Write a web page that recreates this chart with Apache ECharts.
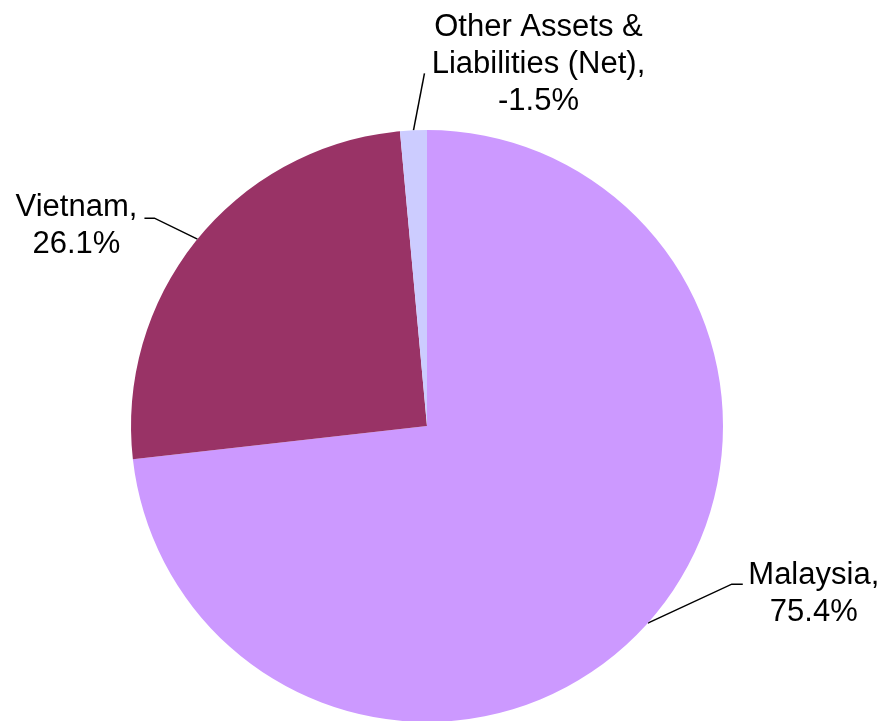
<!DOCTYPE html>
<html>
<head>
<meta charset="utf-8">
<script src="https://cdn.jsdelivr.net/npm/echarts@6/dist/echarts.min.js"></script>
<style>
html,body{margin:0;padding:0;background:#fff;}
#chart{width:887px;height:721px;}
</style>
</head>
<body>
<div id="chart"></div>
<script>
var categories = ['Malaysia', 'Vietnam', 'Other Assets & Liabilities (Net)'];
var values = [75.4, 26.1, -1.5];
var colors = ['#CC99FF', '#993366', '#CCCCFF'];

// label placement relative to slice edge anchor (style only)
var labelOffsets = [
  {dx: 166, dy: -29, line: [[84, -39], [95, -39]]},
  {dx: -121, dy: -13, line: [[-43, -21], [-53, -21]]},
  {dx: 125, dy: -66, line: [[11, -57], [11, -57]]}
];

var CX = 427, CY = 426, R = 296;

function wrapName(n) {
  return n.replace('Assets & ', 'Assets &\n');
}

var chart = echarts.init(document.getElementById('chart'));
var total = values.reduce(function (s, v) { return s + Math.abs(v); }, 0);

var option = {
  backgroundColor: '#ffffff',
  animation: false,
  series: [{
    type: 'pie',
    center: [CX, CY],
    radius: R,
    startAngle: 90,
    clockwise: true,
    avoidLabelOverlap: false,
    itemStyle: {borderWidth: 0},
    data: categories.map(function (c, i) {
      return {
        name: c,
        value: Math.abs(values[i]),
        itemStyle: {color: colors[i]}
      };
    }),
    label: {
      show: true,
      fontFamily: '"Liberation Sans", Arial, sans-serif',
      fontSize: 31,
      lineHeight: 37,
      color: '#000',
      align: 'center',
      formatter: function (p) {
        return wrapName(p.name) + ',\n' + values[p.dataIndex].toFixed(1) + '%';
      }
    },
    labelLine: {
      show: true,
      lineStyle: {color: '#000', width: 1.5}
    },
    labelLayout: function (p) {
      var i = p.dataIndex;
      var ax, ay;
      if (p.labelLinePoints && p.labelLinePoints[0]) {
        ax = p.labelLinePoints[0][0];
        ay = p.labelLinePoints[0][1];
      } else {
        var cum = 0;
        for (var k = 0; k < i; k++) cum += Math.abs(values[k]);
        var mid = (cum + Math.abs(values[i]) / 2) / total * 2 * Math.PI;
        ax = CX + R * Math.sin(mid);
        ay = CY - R * Math.cos(mid);
      }
      var o = labelOffsets[i];
      return {
        x: ax + o.dx,
        y: ay + o.dy,
        align: 'center',
        verticalAlign: 'middle',
        labelLinePoints: [
          [ax, ay],
          [ax + o.line[0][0], ay + o.line[0][1]],
          [ax + o.line[1][0], ay + o.line[1][1]]
        ]
      };
    }
  }]
};
chart.setOption(option);
</script>
</body>
</html>
